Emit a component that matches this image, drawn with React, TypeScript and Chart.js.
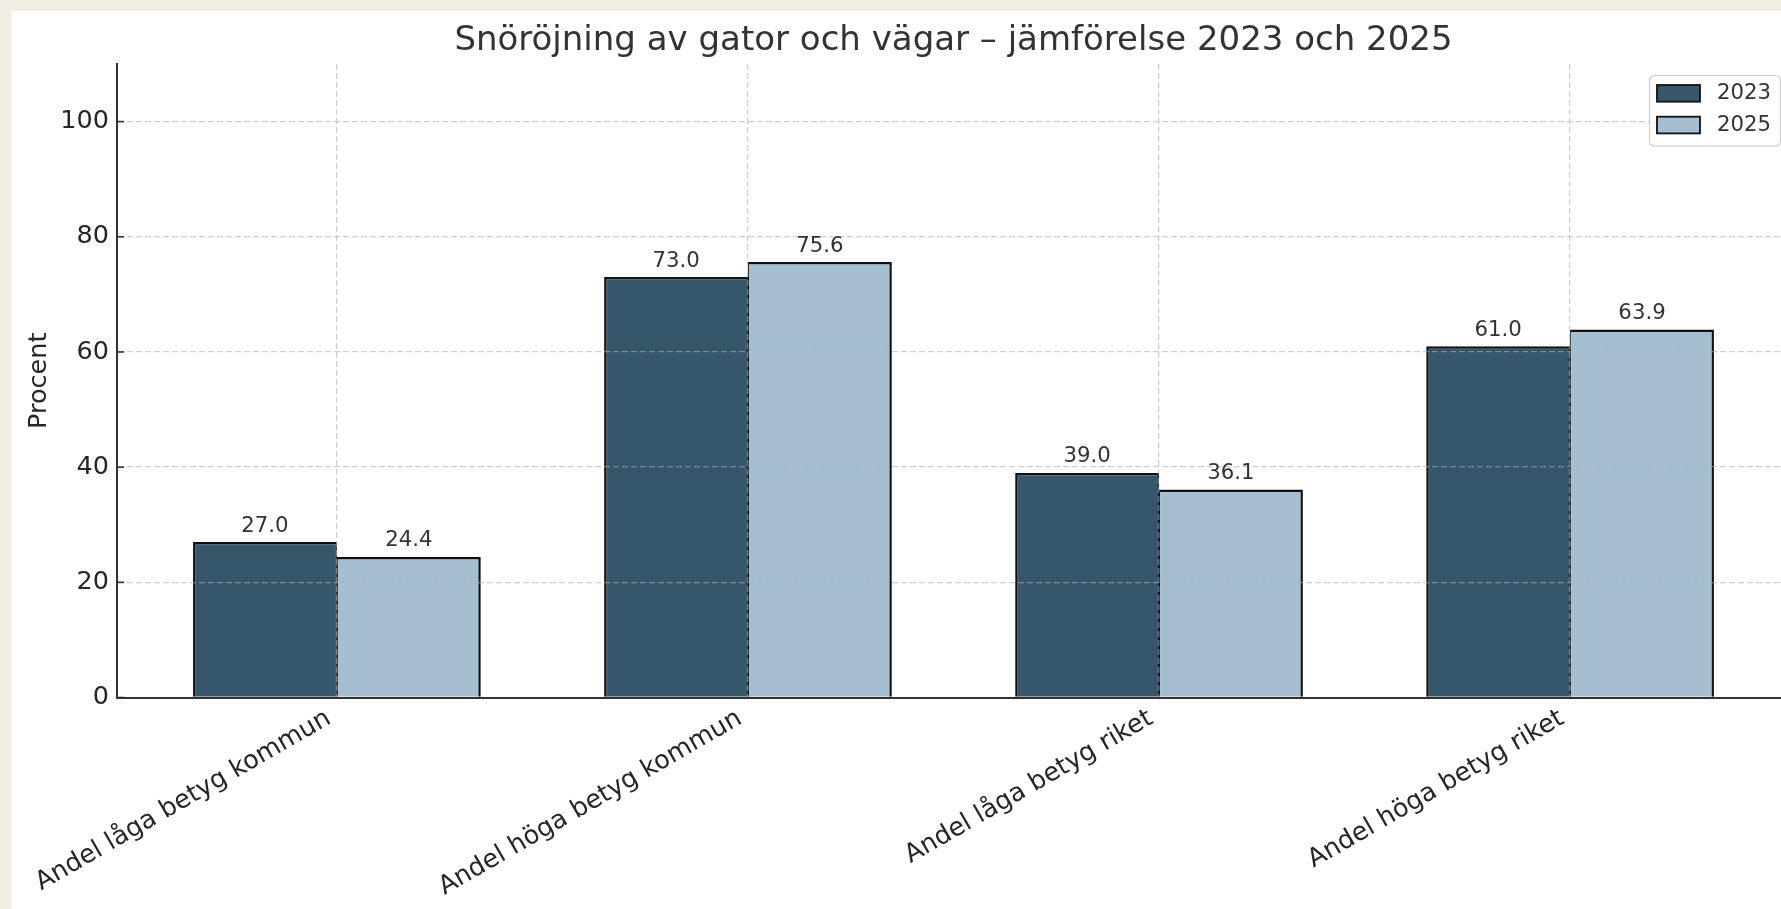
import React, { useEffect, useRef } from 'react';
import { Chart, registerables } from 'chart.js';

Chart.register(...registerables);

const categories = [
  'Andel låga betyg kommun',
  'Andel höga betyg kommun',
  'Andel låga betyg riket',
  'Andel höga betyg riket',
];
const seriesLabels = ['2023', '2025'];
const values2023 = [27.0, 73.0, 39.0, 61.0];
const values2025 = [24.4, 75.6, 36.1, 63.9];
const yTicks = [0, 20, 40, 60, 80, 100];
const yMin = 0;
const yMax = 110;
const titleText = 'Snöröjning av gator och vägar – jämförelse 2023 och 2025';
const yAxisTitle = 'Procent';

const colors = ['#36566b', '#a5bfd1'];
const FONT = '"DejaVu Sans", sans-serif';
const GRID = 'rgba(176,176,176,0.6)';

const overlay = {
  id: 'overlay',
  afterDraw(chart: any) {
    const { ctx, chartArea } = chart;
    const yScale = chart.scales.y;
    ctx.save();
    // inward tick marks on the y axis
    ctx.strokeStyle = '#333333';
    ctx.lineWidth = 1.6;
    yTicks.forEach((v) => {
      const py = yScale.getPixelForValue(v);
      ctx.beginPath();
      ctx.moveTo(chartArea.left, py);
      ctx.lineTo(chartArea.left + 7, py);
      ctx.stroke();
    });
    // value labels
    ctx.font = `21.25px ${FONT}`;
    ctx.fillStyle = '#333333';
    ctx.textAlign = 'center';
    ctx.textBaseline = 'alphabetic';
    chart.data.datasets.forEach((ds: any, di: number) => {
      const meta = chart.getDatasetMeta(di);
      meta.data.forEach((el: any, i: number) => {
        ctx.fillText(Number(ds.data[i]).toFixed(1), el.x, el.y - 10.5);
      });
    });
    // title centred over the axes
    ctx.font = `34px ${FONT}`;
    ctx.fillStyle = '#333333';
    ctx.fillText(titleText, (chartArea.left + chartArea.right) / 2, 39);
    // legend box
    const bw = 131;
    const bh = 70.5;
    const bx = chartArea.right - 10 - bw;
    const by = chartArea.top + 11;
    ctx.beginPath();
    (ctx as any).roundRect(bx + 0.5, by + 0.5, bw, bh, 5);
    ctx.fillStyle = 'rgba(255,255,255,0.85)';
    ctx.fill();
    ctx.strokeStyle = '#cccccc';
    ctx.lineWidth = 1.2;
    ctx.stroke();
    ctx.font = `21.25px ${FONT}`;
    ctx.textAlign = 'left';
    ctx.textBaseline = 'middle';
    chart.data.datasets.forEach((ds: any, di: number) => {
      const py = by + 10 + di * 31.7;
      ctx.fillStyle = ds.backgroundColor;
      ctx.fillRect(bx + 8, py, 43, 16.7);
      ctx.strokeStyle = '#111111';
      ctx.lineWidth = 1.8;
      ctx.strokeRect(bx + 8, py, 43, 16.7);
      ctx.fillStyle = '#333333';
      ctx.fillText(ds.label, bx + 68, py + 8.8);
    });
    ctx.restore();
  },
};

export default function App() {
  const ref = useRef<HTMLCanvasElement | null>(null);

  useEffect(() => {
    if (!ref.current) return;
    Chart.defaults.font.family = FONT;
    const chart = new Chart(ref.current, {
      type: 'bar',
      data: {
        labels: categories,
        datasets: [
          {
            label: seriesLabels[0],
            data: values2023,
            backgroundColor: colors[0],
            borderColor: '#111111',
            borderWidth: { top: 2.5, left: 2.5, right: 1, bottom: 0 },
            borderSkipped: false,
            categoryPercentage: 0.7,
            barPercentage: 1.0,
          },
          {
            label: seriesLabels[1],
            data: values2025,
            backgroundColor: colors[1],
            borderColor: '#111111',
            borderWidth: { top: 2.5, left: 1, right: 2.5, bottom: 0 },
            borderSkipped: false,
            categoryPercentage: 0.7,
            barPercentage: 1.0,
          },
        ],
      },
      options: {
        responsive: false,
        animation: false,
        layout: { padding: { top: 53, right: 21, bottom: 0, left: 0 } },
        plugins: {
          legend: { display: false },
          title: { display: false },
          tooltip: { enabled: false },
        },
        scales: {
          x: {
            type: 'category',
            offset: true,
            grid: { display: true, offset: false, drawTicks: false, color: GRID, lineWidth: 1.3, z: 1 },
            border: { display: true, color: '#333333', width: 2, dash: [6, 3], z: 2 },
            ticks: {
              color: '#262626',
              font: { size: 25.5, family: FONT },
              minRotation: 30,
              maxRotation: 30,
              autoSkip: false,
              padding: 6,
              labelOffset: -8,
            },
            afterBuildTicks: (s: any) => {
              s._startValue = -0.535;
              s._valueRange = 4.07;
            },
            afterFit: (s: any) => {
              s.height = 211.5;
            },
          },
          y: {
            type: 'linear',
            min: yMin,
            max: yMax,
            grid: { display: true, drawTicks: false, color: GRID, lineWidth: 1.3, z: 1 },
            border: { display: true, color: '#333333', width: 2, dash: [6, 3], z: 2 },
            ticks: {
              stepSize: 20,
              includeBounds: false,
              color: '#262626',
              font: { size: 25.5, family: FONT },
              padding: 8,
            },
            title: {
              display: true,
              text: yAxisTitle,
              color: '#262626',
              font: { size: 25.5, family: FONT },
              padding: { top: 12.7, bottom: 0 },
            },
            afterFit: (s: any) => {
              s.width = 106;
            },
          },
        },
      },
      plugins: [overlay],
    } as any);
    return () => chart.destroy();
  }, []);

  return (
    <div
      style={{
        position: 'fixed',
        left: 0,
        top: 0,
        width: '100vw',
        height: '100vh',
        background: '#f1ede3',
        overflow: 'hidden',
      }}
    >
      <div
        style={{
          position: 'absolute',
          left: 11,
          top: 11,
          width: 1800,
          height: 898,
          background: '#ffffff',
        }}
      >
        <canvas ref={ref} width={1800} height={898} style={{ display: 'block', width: 1800, height: 898 }} />
      </div>
    </div>
  );
}
